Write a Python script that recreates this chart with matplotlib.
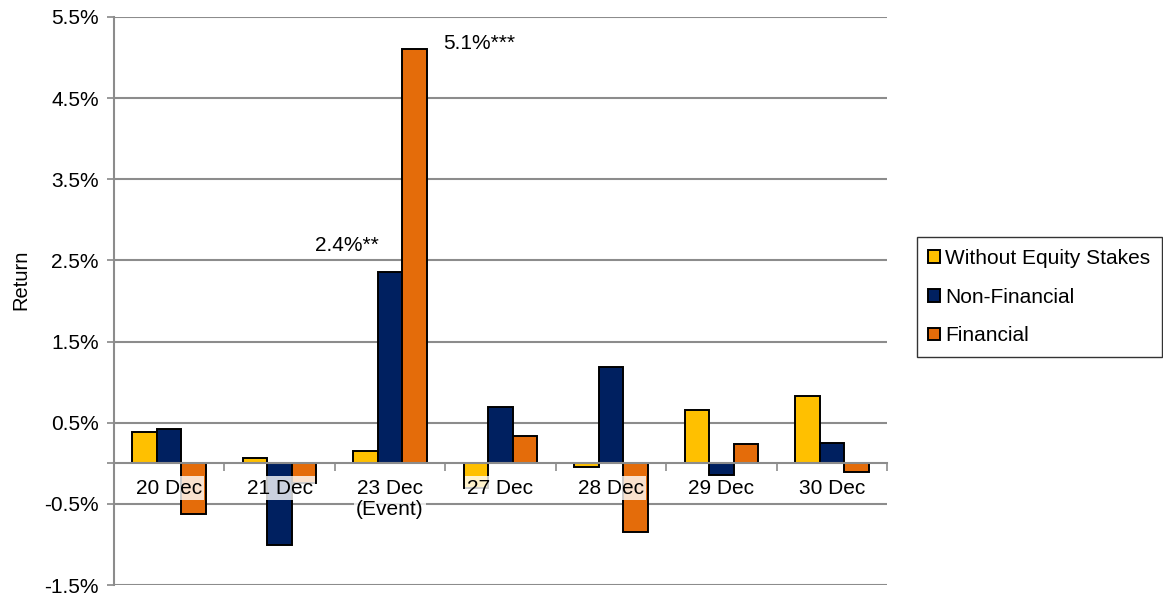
import matplotlib.pyplot as plt
import numpy as np

plt.rcParams['font.family'] = ['Liberation Sans', 'DejaVu Sans']

days = ['20 Dec', '21 Dec', '23 Dec\n(Event)', '27 Dec', '28 Dec', '29 Dec', '30 Dec']
series = ['Without Equity Stakes', 'Non-Financial', 'Financial']
without_stakes = [0.39, 0.07, 0.15, -0.31, -0.04, 0.66, 0.83]
non_financial = [0.42, -1.01, 2.36, 0.69, 1.19, -0.15, 0.25]
financial = [-0.62, -0.24, 5.10, 0.34, -0.85, 0.24, -0.11]
stars = {(1, 2): '**', (2, 2): '***'}  # (series, day) -> significance

colors = ['#FFC000', '#002060', '#E46C0A']
values = [without_stakes, non_financial, financial]

fig = plt.figure(figsize=(11.63, 5.98), dpi=100)
ax = fig.add_axes([0.098, 0.0217, 0.6647, 0.9499])

x = np.arange(len(days))
w = 0.222
for i, (vals, c, name) in enumerate(zip(values, colors, series)):
    ax.bar(x + (i - 1) * w, vals, w, color=c, edgecolor='black', linewidth=1.4,
           label=name, zorder=3)

# significance labels on the event-day bars
v = non_financial[2]
ax.text(x[2] - 0.10, v + 0.32, f'{v:.1f}%' + stars[(1, 2)], ha='right', va='center',
        fontsize=15, zorder=5)
v = financial[2]
ax.text(x[2] + 0.48, v + 0.07, f'{v:.1f}%' + stars[(2, 2)], ha='left', va='center',
        fontsize=15, zorder=5)

ax.set_xlim(-0.5, len(days) - 0.5)
ax.set_ylim(-1.5, 5.5)
yt = np.arange(-1.5, 5.6, 1.0)
ax.set_yticks(yt)
ax.set_yticklabels([f'{t:.1f}%' for t in yt], fontsize=15)
ax.set_yticks([0], minor=True)
ax.tick_params(axis='y', which='both', length=5, width=1.2, color='#888888', pad=6)
ax.grid(axis='y', color='#8c8c8c', linewidth=1.5, zorder=0)
ax.set_ylabel('Return', fontsize=14.5)
ax.yaxis.set_label_coords(-0.108, 0.537)

# category axis sits on zero, ticks between groups
ax.spines['bottom'].set_position(('data', 0))
ax.spines['bottom'].set_color('#8c8c8c')
ax.spines['bottom'].set_linewidth(1.5)
ax.spines['bottom'].set_zorder(4)
ax.spines['left'].set_color('#8c8c8c')
ax.spines['left'].set_linewidth(1.5)
ax.spines['top'].set_visible(False)
ax.spines['right'].set_visible(False)
ax.set_xticks(np.arange(-0.5, len(days), 1.0))
ax.set_xticklabels([])
ax.tick_params(axis='x', length=6, width=1.2, color='#8c8c8c', direction='out')

for xi, d in zip(x, days):
    ax.annotate(d, (xi, 0), xytext=(0, -11), textcoords='offset points',
                ha='center', va='top', fontsize=15, zorder=6, linespacing=1.15,
                bbox=dict(boxstyle='square,pad=0.1', fc='white', ec='none', alpha=0.8))

leg = fig.legend(loc='center left', bbox_to_anchor=(0.7885, 0.503), fontsize=15,
                 frameon=True, fancybox=False, edgecolor='black', handlelength=0.55,
                 handleheight=0.55, handletextpad=0.25, labelspacing=0.95,
                 borderpad=0.55, borderaxespad=0)
leg.get_frame().set_linewidth(1.0)

fig.savefig('out.png', dpi=100)
